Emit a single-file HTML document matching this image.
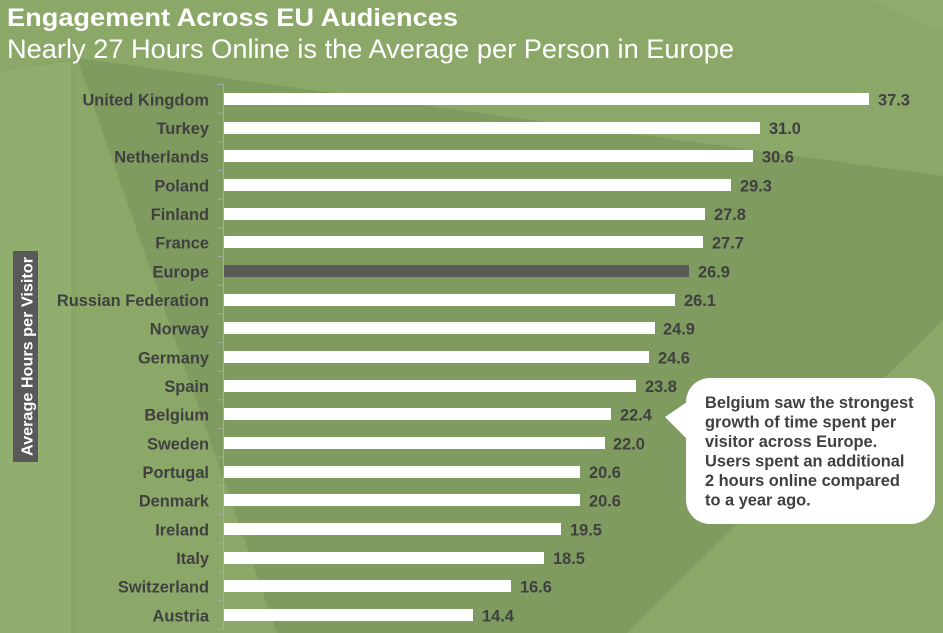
<!DOCTYPE html>
<html>
<head>
<meta charset="utf-8">
<style>
html,body{margin:0;padding:0;background:#8ba869;}
svg{display:block;}
text{font-family:"Liberation Sans",Arial,sans-serif;}
</style>
</head>
<body>
<svg width="943" height="633" viewBox="0 0 943 633" xmlns="http://www.w3.org/2000/svg">
  <!-- background -->
  <rect x="0" y="0" width="943" height="633" fill="#8ba869"/>
  <polygon points="870,0 943,0 943,32" fill="#90ad6e"/>
  <polygon points="0,72 77,58 77,633 0,633" fill="#88a566"/>
  <polygon points="0,72 71,61 71,633 0,633" fill="#90ae6d"/>
  <polygon points="77,58 943,176 943,320 627,633 277,633" fill="#7f9b60"/>

  <!-- titles -->
  <text x="7" y="26" font-size="25" font-weight="bold" fill="#ffffff" textLength="451" lengthAdjust="spacingAndGlyphs">Engagement Across EU Audiences</text>
  <text x="7" y="58" font-size="27" fill="#ffffff" textLength="727" lengthAdjust="spacingAndGlyphs">Nearly 27 Hours Online is the Average per Person in Europe</text>

  <!-- y axis label -->
  <rect x="13" y="251" width="25" height="211" fill="#595959"/>
  <text transform="translate(32.5,356.5) rotate(-90)" x="0" y="0" font-size="16" font-weight="bold" fill="#ffffff" text-anchor="middle" textLength="199" lengthAdjust="spacingAndGlyphs">Average Hours per Visitor</text>

  <!-- axis line and ticks -->
  <g stroke="#a9a9ae" stroke-width="1">
    <line x1="223.5" y1="84.5" x2="223.5" y2="629.5"/>
    <line x1="218" y1="84.5" x2="223.5" y2="84.5"/>
    <line x1="218" y1="113.2" x2="223.5" y2="113.2"/>
    <line x1="218" y1="141.8" x2="223.5" y2="141.8"/>
    <line x1="218" y1="170.5" x2="223.5" y2="170.5"/>
    <line x1="218" y1="199.2" x2="223.5" y2="199.2"/>
    <line x1="218" y1="227.8" x2="223.5" y2="227.8"/>
    <line x1="218" y1="256.5" x2="223.5" y2="256.5"/>
    <line x1="218" y1="285.2" x2="223.5" y2="285.2"/>
    <line x1="218" y1="313.8" x2="223.5" y2="313.8"/>
    <line x1="218" y1="342.5" x2="223.5" y2="342.5"/>
    <line x1="218" y1="371.2" x2="223.5" y2="371.2"/>
    <line x1="218" y1="399.8" x2="223.5" y2="399.8"/>
    <line x1="218" y1="428.5" x2="223.5" y2="428.5"/>
    <line x1="218" y1="457.2" x2="223.5" y2="457.2"/>
    <line x1="218" y1="485.8" x2="223.5" y2="485.8"/>
    <line x1="218" y1="514.5" x2="223.5" y2="514.5"/>
    <line x1="218" y1="543.2" x2="223.5" y2="543.2"/>
    <line x1="218" y1="571.8" x2="223.5" y2="571.8"/>
    <line x1="218" y1="600.5" x2="223.5" y2="600.5"/>
    <line x1="218" y1="629.2" x2="223.5" y2="629.2"/>
  </g>

  <!-- bars -->
  <g fill="#ffffff">
    <rect x="224" y="93" width="645" height="12"/>
    <rect x="224" y="122" width="536" height="12"/>
    <rect x="224" y="150" width="529" height="12"/>
    <rect x="224" y="179" width="507" height="12"/>
    <rect x="224" y="208" width="481" height="12"/>
    <rect x="224" y="236" width="479" height="12"/>
    <rect x="224" y="294" width="451" height="12"/>
    <rect x="224" y="322" width="431" height="12"/>
    <rect x="224" y="351" width="425" height="12"/>
    <rect x="224" y="380" width="412" height="12"/>
    <rect x="224" y="408" width="387" height="12"/>
    <rect x="224" y="437" width="381" height="12"/>
    <rect x="224" y="466" width="356" height="12"/>
    <rect x="224" y="494" width="356" height="12"/>
    <rect x="224" y="523" width="337" height="12"/>
    <rect x="224" y="552" width="320" height="12"/>
    <rect x="224" y="580" width="287" height="12"/>
    <rect x="224" y="609" width="249" height="12"/>
  </g>
  <rect x="224" y="265" width="465" height="12" fill="#595959"/>

  <!-- category labels -->
  <g font-size="16.4" font-weight="bold" fill="#404040" text-anchor="end">
    <text x="209" y="105.3">United Kingdom</text>
    <text x="209" y="134">Turkey</text>
    <text x="209" y="162.6">Netherlands</text>
    <text x="209" y="191.3">Poland</text>
    <text x="209" y="220">Finland</text>
    <text x="209" y="248.6">France</text>
    <text x="209" y="277.3">Europe</text>
    <text x="209" y="306">Russian Federation</text>
    <text x="209" y="334.6">Norway</text>
    <text x="209" y="363.3">Germany</text>
    <text x="209" y="392">Spain</text>
    <text x="209" y="420.6">Belgium</text>
    <text x="209" y="449.3">Sweden</text>
    <text x="209" y="478">Portugal</text>
    <text x="209" y="506.6">Denmark</text>
    <text x="209" y="535.3">Ireland</text>
    <text x="209" y="564">Italy</text>
    <text x="209" y="592.6">Switzerland</text>
    <text x="209" y="621.3">Austria</text>
  </g>

  <!-- value labels -->
  <g font-size="16.4" font-weight="bold" fill="#404040">
    <text x="878" y="105.3">37.3</text>
    <text x="769" y="134">31.0</text>
    <text x="762" y="162.6">30.6</text>
    <text x="740" y="191.3">29.3</text>
    <text x="714" y="220">27.8</text>
    <text x="712" y="248.6">27.7</text>
    <text x="698" y="277.3">26.9</text>
    <text x="684" y="306">26.1</text>
    <text x="663" y="334.6">24.9</text>
    <text x="658" y="363.3">24.6</text>
    <text x="645" y="392">23.8</text>
    <text x="620" y="420.6">22.4</text>
    <text x="613" y="449.3">22.0</text>
    <text x="589" y="478">20.6</text>
    <text x="589" y="506.6">20.6</text>
    <text x="570" y="535.3">19.5</text>
    <text x="553" y="564">18.5</text>
    <text x="520" y="592.6">16.6</text>
    <text x="482" y="621.3">14.4</text>
  </g>

  <!-- callout bubble -->
  <rect x="686" y="378" width="249" height="146" rx="24" ry="24" fill="#ffffff"/>
  <polygon points="665,417 690,400 690,442" fill="#ffffff"/>
  <g font-size="16.4" font-weight="bold" fill="#404040">
    <text x="705" y="408">Belgium saw the strongest</text>
    <text x="705" y="427.5">growth of time spent per</text>
    <text x="705" y="447">visitor across Europe.</text>
    <text x="705" y="466.5">Users spent an additional</text>
    <text x="705" y="486">2 hours online compared</text>
    <text x="705" y="505.5">to a year ago.</text>
  </g>
</svg>
</body>
</html>
